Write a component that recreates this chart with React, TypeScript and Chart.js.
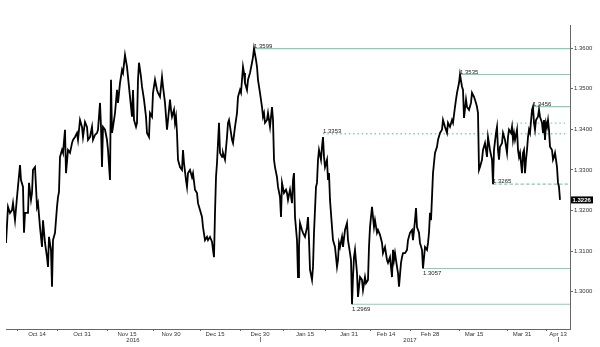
import React, { useEffect, useRef } from 'react';
import { Chart, registerables } from 'chart.js';

Chart.register(...registerables);

// [trading-day offset from start, USD/CAD rate]
const priceSeries: [number, number][] = [
  [0, 1.3120], [0.5, 1.3209], [1, 1.3194], [1.5, 1.3201], [1.75, 1.3218], [2.25, 1.3176], [2.75, 1.3233],
  [3.5, 1.3312], [3.75, 1.3275], [4.25, 1.3258], [4.5, 1.3145], [4.75, 1.3194], [5.5, 1.3194], [5.75, 1.3268],
  [6.25, 1.3226], [6.5, 1.3243], [6.75, 1.3300], [7.25, 1.3307], [7.75, 1.3209], [8, 1.3218], [8.5, 1.3159],
  [9, 1.3110], [9.25, 1.3176], [9.75, 1.3120], [10.25, 1.3085], [10.5, 1.3061], [10.75, 1.3135], [11.25, 1.3103],
  [11.5, 1.3012], [11.75, 1.3127], [12.25, 1.3145], [12.75, 1.3209], [13, 1.3233], [13.25, 1.3246], [13.5, 1.3332],
  [14, 1.3349], [14.25, 1.3342], [14.75, 1.3399], [15, 1.3292], [15.5, 1.3349], [16, 1.3342], [16.5, 1.3366],
  [16.75, 1.3374], [17.25, 1.3381], [17.75, 1.3391], [18, 1.3374], [18.5, 1.3423], [19, 1.3406], [19.25, 1.3381],
  [19.75, 1.3418], [20.25, 1.3406], [20.5, 1.3374], [21, 1.3381], [21.5, 1.3406], [21.75, 1.3374], [22.25, 1.3386],
  [22.75, 1.3391], [23, 1.3399], [23.5, 1.3465], [23.75, 1.3406], [24, 1.3307], [24.25, 1.3406], [24.75, 1.3399],
  [25.25, 1.3374], [25.5, 1.3349], [26, 1.3275], [26.25, 1.3522], [26.5, 1.3391], [26.75, 1.3406], [27.25, 1.3440],
  [27.75, 1.3497], [28, 1.3465], [28.5, 1.3514], [29, 1.3546], [29.25, 1.3539], [29.75, 1.3583], [30.25, 1.3554],
  [30.5, 1.3529], [31, 1.3480], [31.5, 1.3431], [31.75, 1.3497], [32, 1.3423], [32.5, 1.3406], [32.75, 1.3416],
  [33, 1.3522], [33.25, 1.3564], [33.75, 1.3529], [34, 1.3505], [34.5, 1.3473], [35, 1.3431], [35.25, 1.3391],
  [35.75, 1.3381], [36, 1.3440], [36.5, 1.3431], [36.75, 1.3490], [37.25, 1.3522], [37.75, 1.3497], [38, 1.3490],
  [38.5, 1.3480], [39, 1.3529], [39.25, 1.3505], [39.75, 1.3465], [40.25, 1.3399], [40.5, 1.3423], [41, 1.3473],
  [41.25, 1.3448], [41.5, 1.3431], [42, 1.3448], [42.25, 1.3416], [42.5, 1.3431], [42.75, 1.3391], [43, 1.3325],
  [43.5, 1.3307], [44, 1.3300], [44.25, 1.3349], [44.5, 1.3317], [45, 1.3275], [45.25, 1.3258], [45.5, 1.3292],
  [46, 1.3300], [46.5, 1.3282], [46.75, 1.3292], [47.25, 1.3251], [47.75, 1.3243], [48, 1.3218], [48.5, 1.3201],
  [49, 1.3184], [49.25, 1.3159], [49.75, 1.3127], [50.25, 1.3135], [50.5, 1.3127], [51, 1.3135], [51.5, 1.3123],
  [51.75, 1.3103], [52, 1.3085], [52.25, 1.3194], [52.5, 1.3282], [52.75, 1.3317], [53.25, 1.3416], [53.5, 1.3342],
  [54, 1.3332], [54.25, 1.3342], [54.75, 1.3325], [55.25, 1.3381], [55.5, 1.3416], [55.75, 1.3423], [56.25, 1.3391],
  [56.5, 1.3374], [56.75, 1.3366], [57.25, 1.3406], [57.75, 1.3440], [58, 1.3480], [58.5, 1.3497], [58.75, 1.3490],
  [59.25, 1.3554], [59.5, 1.3539], [59.75, 1.3514], [60.25, 1.3497], [60.5, 1.3522], [61, 1.3539], [61.5, 1.3564],
  [61.75, 1.3578], [62, 1.3599], [62.5, 1.3571], [62.75, 1.3554], [63, 1.3522], [63.5, 1.3490], [64, 1.3455],
  [64.25, 1.3431], [64.5, 1.3440], [64.75, 1.3416], [65.25, 1.3423], [65.5, 1.3440], [66, 1.3406], [66.5, 1.3455],
  [66.75, 1.3423], [67, 1.3325], [67.25, 1.3307], [67.75, 1.3282], [68, 1.3258], [68.5, 1.3233], [68.75, 1.3184],
  [69, 1.3268], [69.5, 1.3243], [70, 1.3251], [70.25, 1.3243], [70.5, 1.3226], [71, 1.3251], [71.5, 1.3218],
  [71.75, 1.3275], [72, 1.3292], [72.25, 1.3184], [72.75, 1.3127], [73, 1.3036], [73.25, 1.3110], [73.5, 1.3169],
  [74, 1.3152], [74.25, 1.3145], [74.75, 1.3135], [75.25, 1.3159], [75.5, 1.3184], [75.75, 1.3127], [76, 1.3054],
  [76.5, 1.3029], [76.75, 1.3061], [77, 1.3145], [77.5, 1.3258], [77.75, 1.3268], [78, 1.3325], [78.25, 1.3349],
  [78.75, 1.3325], [79, 1.3357], [79.25, 1.3381], [79.5, 1.3332], [79.75, 1.3307], [80.25, 1.3325], [80.5, 1.3275],
  [80.75, 1.3292], [81, 1.3226], [81.5, 1.3159], [81.75, 1.3127], [82.25, 1.3110], [82.75, 1.3061], [83, 1.3078],
  [83.25, 1.3120], [83.5, 1.3110], [84, 1.3135], [84.25, 1.3110], [84.75, 1.3152], [85.25, 1.3169], [85.5, 1.3127],
  [86, 1.3095], [86.25, 1.3078], [86.5, 1.2969], [86.75, 1.3036], [87, 1.3085], [87.25, 1.3103], [87.75, 1.3046],
  [88, 1.2987], [88.25, 1.3012], [88.5, 1.3036], [89, 1.3029], [89.25, 1.3004], [89.75, 1.3036], [90, 1.3021],
  [90.5, 1.3029], [90.75, 1.3110], [91, 1.3159], [91.5, 1.3209], [91.75, 1.3184], [92, 1.3159], [92.25, 1.3176],
  [92.75, 1.3145], [93, 1.3152], [93.5, 1.3140], [94, 1.3120], [94.25, 1.3095], [94.75, 1.3110], [95.25, 1.3078],
  [95.5, 1.3071], [96, 1.3085], [96.5, 1.3036], [96.75, 1.3103], [97, 1.3078], [97.25, 1.3095], [97.75, 1.3061],
  [98, 1.3046], [98.25, 1.3012], [98.75, 1.3071], [99, 1.3085], [99.25, 1.3095], [99.75, 1.3095], [100.25, 1.3103],
  [100.5, 1.3127], [101, 1.3145], [101.5, 1.3152], [101.75, 1.3127], [102.25, 1.3176], [102.5, 1.3206], [102.75, 1.3159],
  [103.25, 1.3145], [103.5, 1.3120], [104, 1.3103], [104.25, 1.3057], [104.75, 1.3110], [105.25, 1.3103], [105.5, 1.3120],
  [105.75, 1.3145], [106, 1.3194], [106.25, 1.3176], [106.5, 1.3233], [106.75, 1.3292], [107, 1.3317], [107.25, 1.3342],
  [107.75, 1.3357], [108, 1.3374], [108.5, 1.3391], [109, 1.3399], [109.25, 1.3423], [109.75, 1.3406], [110.25, 1.3391],
  [110.5, 1.3416], [111, 1.3406], [111.5, 1.3423], [111.75, 1.3416], [112.25, 1.3455], [112.5, 1.3473], [112.75, 1.3490],
  [113.25, 1.3514], [113.5, 1.3535], [114, 1.3505], [114.25, 1.3497], [114.5, 1.3428], [115, 1.3473], [115.25, 1.3455],
  [115.75, 1.3448], [116.25, 1.3465], [116.5, 1.3490], [117, 1.3480], [117.5, 1.3465], [117.75, 1.3455], [118, 1.3440],
  [118.25, 1.3300], [118.5, 1.3307], [119, 1.3325], [119.25, 1.3349], [119.75, 1.3366], [120.25, 1.3332], [120.5, 1.3381],
  [121, 1.3349], [121.5, 1.3325], [121.75, 1.3265], [122, 1.3349], [122.5, 1.3391], [122.75, 1.3406], [123, 1.3349],
  [123.25, 1.3325], [123.5, 1.3357], [124, 1.3366], [124.25, 1.3391], [124.75, 1.3374], [125.25, 1.3342], [125.5, 1.3381],
  [125.75, 1.3399], [126.25, 1.3391], [126.5, 1.3406], [126.75, 1.3374], [127, 1.3391], [127.25, 1.3374], [127.75, 1.3399],
  [128, 1.3349], [128.25, 1.3332], [128.5, 1.3342], [129, 1.3292], [129.25, 1.3342], [129.5, 1.3349], [129.75, 1.3292],
  [130, 1.3325], [130.25, 1.3349], [130.5, 1.3381], [130.75, 1.3399], [131, 1.3391], [131.5, 1.3448], [131.75, 1.3456],
  [132, 1.3416], [132.25, 1.3399], [132.5, 1.3423], [133, 1.3431], [133.25, 1.3448], [133.5, 1.3431], [134, 1.3416],
  [134.25, 1.3391], [134.5, 1.3423], [134.75, 1.3374], [135, 1.3416], [135.25, 1.3406], [135.5, 1.3423], [135.75, 1.3399],
  [136, 1.3357], [136.5, 1.3349], [136.75, 1.3325], [137, 1.3332], [137.25, 1.3342], [137.5, 1.3325], [137.75, 1.3307],
  [138, 1.3268], [138.25, 1.3258], [138.5, 1.3226],
];

const rateTicks = [1.30, 1.31, 1.32, 1.33, 1.34, 1.35, 1.36];

const dateLabels = ['Oct 14', 'Oct 31', 'Nov 15', 'Nov 30', 'Dec 15', 'Dec 30', 'Jan 15', 'Jan 31', 'Feb 14', 'Feb 28', 'Mar 15', 'Mar 31', 'Apr 13'];
const dateLabelDays = [7.75, 19, 30.25, 41.25, 52.25, 63.5, 74.75, 85.75, 95, 106, 117, 129, 138];
const dateBoundaryDays = [2.75, 12.75, 25.25, 36.75, 48.5, 58.5, 69.25, 79.75, 91, 101, 113.25, 125.25, 135];

const yearLabels = ['2016', '2017'];
const yearLabelDays = [31.75, 101];
const yearMarkDays = [63.5, 138];

const levelText = ['1.3599', '1.3535', '1.3456', '1.3353', '', '1.3265', '1.3057', '1.2969'];
const levelValues = [1.3599, 1.3535, 1.3456, 1.3389, 1.3415, 1.3265, 1.3057, 1.2969];
const levelStartDays = [62, 113.5, 131.75, 79.25, 126.5, 121.75, 104.25, 86.5];
const levelEndDays = [141, 141, 141, 140.25, 140.25, 141, 141, 141];

// styling (not data)
const LEVEL_COLOR = '#80d2b0';
const levelLook = [
  { dash: [] as number[], below: false },
  { dash: [], below: false },
  { dash: [], below: false },
  { dash: [1.5, 2.8], below: false },
  { dash: [1.5, 2.8], below: false },
  { dash: [3.5, 2], below: false },
  { dash: [], below: true },
  { dash: [], below: true },
];

const FONT = '"Liberation Sans", Arial, sans-serif';

export default function App() {
  const canvasRef = useRef<HTMLCanvasElement | null>(null);

  useEffect(() => {
    document.body.style.margin = '0';
    const canvas = canvasRef.current;
    if (!canvas) return;

    const overlay = {
      id: 'overlay',
      afterDatasetsDraw(chart: any) {
        const { ctx, scales } = chart;
        const x = scales.x;
        const y = scales.y;
        ctx.save();
        ctx.font = `6px ${FONT}`;
        ctx.fillStyle = '#222';
        ctx.textAlign = 'left';
        ctx.textBaseline = 'alphabetic';
        levelValues.forEach((v, i) => {
          const t = levelText[i];
          if (!t) return;
          const px = x.getPixelForValue(levelStartDays[i]);
          const py = y.getPixelForValue(v);
          if (levelLook[i].below) ctx.fillText(t, px, py + 6.5);
          else ctx.fillText(t, px, py - 1);
        });
        ctx.restore();
      },
      afterDraw(chart: any) {
        const { ctx, scales, chartArea } = chart;
        const x = scales.x;
        const y = scales.y;
        ctx.save();
        ctx.font = `6px ${FONT}`;
        ctx.fillStyle = '#333';
        ctx.textAlign = 'center';
        ctx.textBaseline = 'alphabetic';
        yearLabels.forEach((lab, i) => {
          ctx.fillText(lab, x.getPixelForValue(yearLabelDays[i]), chartArea.bottom + 13);
        });
        ctx.strokeStyle = '#777';
        ctx.lineWidth = 1;
        yearMarkDays.forEach((d) => {
          const px = Math.round(x.getPixelForValue(d)) + 0.5;
          ctx.beginPath();
          ctx.moveTo(px, chartArea.bottom + 8);
          ctx.lineTo(px, chartArea.bottom + 13);
          ctx.stroke();
        });
        // last price box
        const last = priceSeries[priceSeries.length - 1][1];
        const py = y.getPixelForValue(last);
        const bx = chartArea.right + 1;
        ctx.fillStyle = '#000';
        ctx.fillRect(bx, py - 3.5, 22, 7);
        ctx.fillStyle = '#fff';
        ctx.font = `bold 6px ${FONT}`;
        ctx.textAlign = 'left';
        ctx.textBaseline = 'middle';
        ctx.fillText(last.toFixed(4), bx + 1.5, py + 0.3);
        ctx.restore();
      },
    };

    const levelDatasets = levelValues.map((v, i) => ({
      type: 'line' as const,
      data: [
        { x: levelStartDays[i], y: v },
        { x: levelEndDays[i], y: v },
      ],
      borderColor: LEVEL_COLOR,
      borderWidth: levelLook[i].dash.length ? 1.3 : 1.2,
      borderDash: levelLook[i].dash,
      pointRadius: 0,
      order: 2,
    }));

    const chart = new Chart(canvas, {
      type: 'line',
      data: {
        datasets: [
          {
            data: priceSeries.map(([d, r]) => ({ x: d, y: r })),
            borderColor: '#000',
            borderWidth: 1.8,
            pointRadius: 0,
            tension: 0,
            order: 0,
          },
          ...levelDatasets,
        ] as any,
      },
      options: {
        responsive: false,
        animation: false,
        devicePixelRatio: 1,
        layout: { padding: { left: 6, top: 25, right: 0, bottom: 0 } },
        plugins: { legend: { display: false }, tooltip: { enabled: false } },
        scales: {
          x: {
            type: 'linear',
            position: 'bottom',
            min: 0,
            max: 141,
            afterBuildTicks: (scale: any) => {
              scale.ticks = [...dateBoundaryDays, ...dateLabelDays]
                .sort((a, b) => a - b)
                .map((v) => ({ value: v }));
            },
            afterFit: (scale: any) => {
              scale.height = 18;
            },
            ticks: {
              autoSkip: false,
              maxRotation: 0,
              minRotation: 0,
              padding: 0,
              color: '#333',
              font: { family: FONT, size: 6 },
              callback: (value: any) => {
                const i = dateLabelDays.indexOf(Number(value));
                return i >= 0 ? dateLabels[i] : '';
              },
            },
            grid: {
              drawOnChartArea: false,
              drawTicks: true,
              tickLength: 2,
              color: (ctx: any) =>
                ctx.tick && dateLabelDays.includes(ctx.tick.value) ? 'rgba(0,0,0,0)' : '#666',
            },
            border: { display: true, color: '#666', width: 1 },
          },
          y: {
            type: 'linear',
            position: 'right',
            min: 1.2908,
            max: 1.3657,
            afterBuildTicks: (scale: any) => {
              scale.ticks = rateTicks.map((v) => ({ value: v }));
            },
            afterFit: (scale: any) => {
              scale.width = 30;
            },
            ticks: {
              padding: 1,
              color: '#333',
              font: { family: FONT, size: 6 },
              callback: (value: any) => Number(value).toFixed(4),
            },
            grid: {
              drawOnChartArea: false,
              drawTicks: true,
              tickLength: 3,
              color: '#666',
            },
            border: { display: true, color: '#666', width: 1 },
          },
        },
      },
      plugins: [overlay],
    });

    return () => chart.destroy();
  }, []);

  return (
    <div style={{ width: 600, height: 347, background: '#fff' }}>
      <canvas ref={canvasRef} width={600} height={347} />
    </div>
  );
}
